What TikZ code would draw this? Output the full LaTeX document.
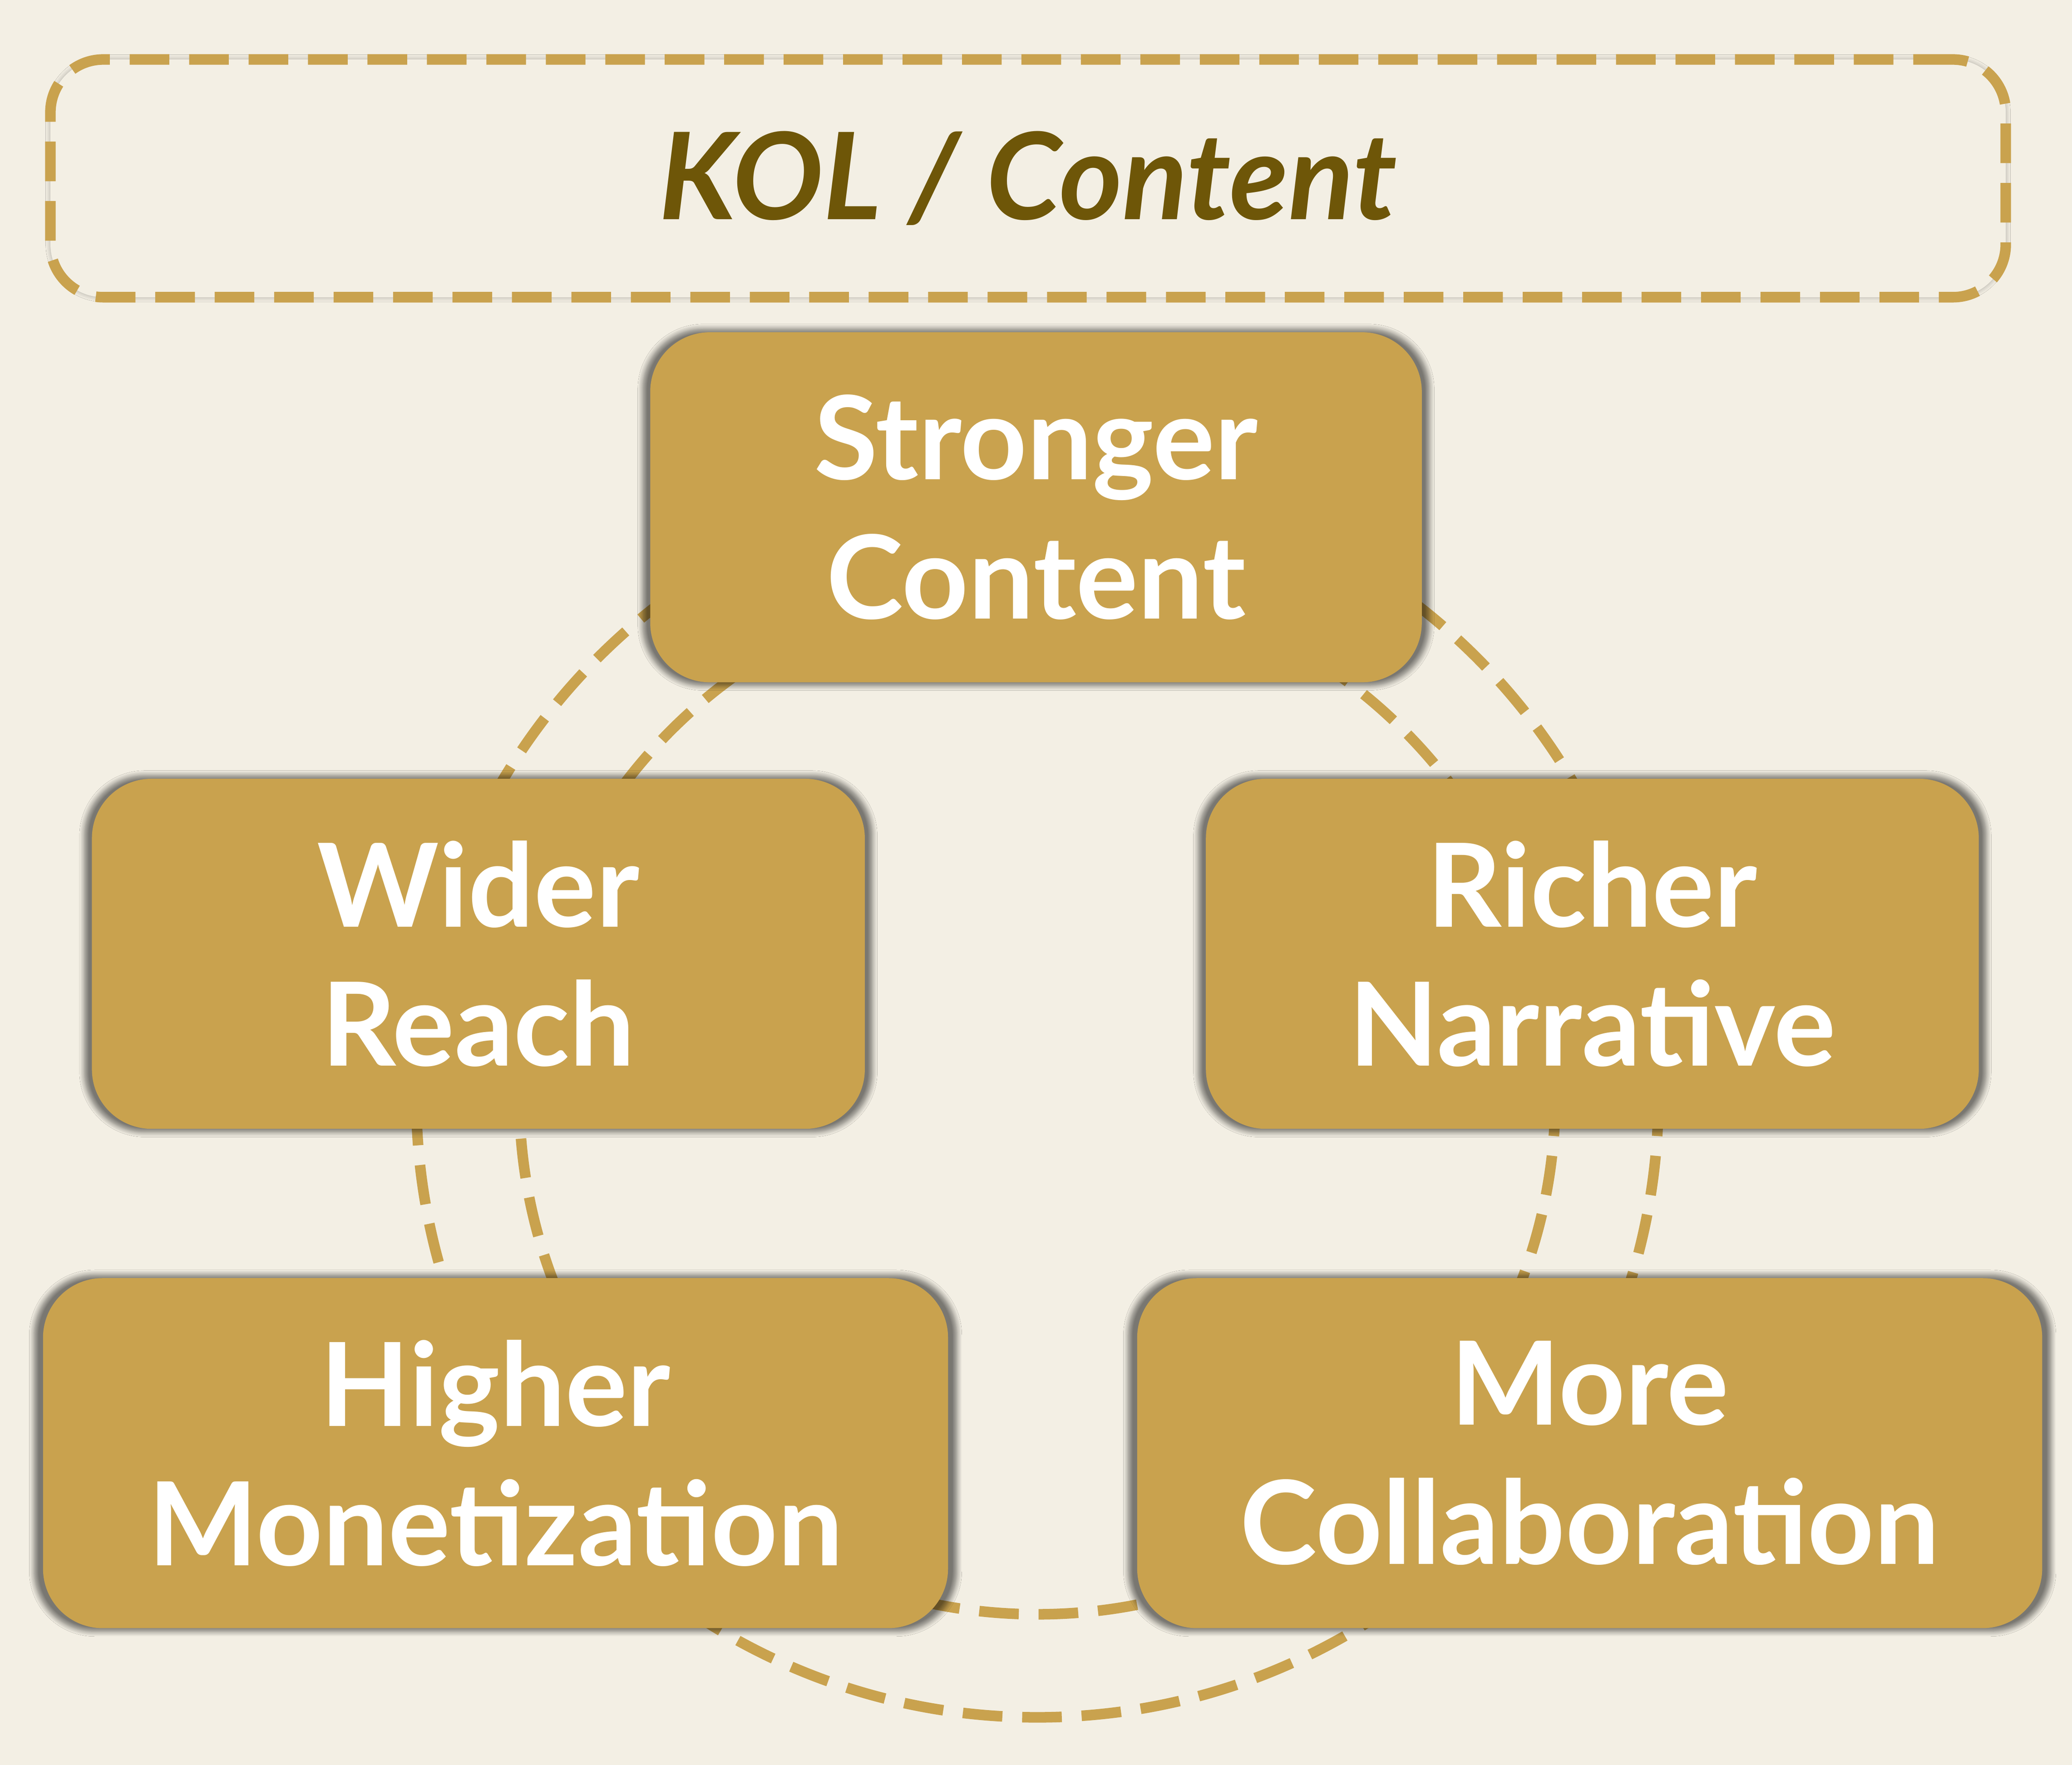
\documentclass[tikz,border=0pt]{standalone}
\usepackage{fontspec}
\setmainfont{Lato}
\usetikzlibrary{shadows.blur}
\definecolor{bg}{HTML}{F3EFE4}
\definecolor{gold}{HTML}{C9A24E}
\definecolor{olive}{HTML}{6E5608}
\begin{document}
\begin{tikzpicture}[x=0.02cm,y=-0.02cm,
  box/.style={draw=none,fill=gold,rounded corners=0.9cm,blur shadow={shadow blur steps=8,shadow xshift=0pt,shadow yshift=0pt,shadow scale=1.02,shadow opacity=50},
   text=white,align=center,font=\fontsize{50}{60}\selectfont\bfseries,inner sep=0pt},
  gdash/.style={draw=gold,line width=0.16cm,dash pattern=on 0.6cm off 0.3cm}]
\fill[bg] (0,0) rectangle (1568,1336);
\useasboundingbox (0,0) rectangle (1568,1336);
\draw[gdash] (785,830) circle[radius=470];
\draw[gdash] (785,830) circle[radius=392];
\node[gdash,rounded corners=0.8cm,minimum width=29.6cm,minimum height=3.6cm,blur shadow={shadow xshift=0pt,shadow yshift=0pt,shadow opacity=30},fill=bg] (t) at (778,135) {};
\node[text=olive,font=\fontsize{52}{60}\selectfont\bfseries\itshape] (tt) at (t) {KOL / Content};
\node[box,minimum width=11.68cm,minimum height=5.3cm] (s) at (784,384) {Stronger\\Content};
\node[box,minimum width=11.7cm,minimum height=5.3cm] (w) at (362,722) {Wider\\Reach};
\node[box,minimum width=11.7cm,minimum height=5.3cm] (r) at (1205,722) {Richer\\Narrative};
\node[box,minimum width=13.7cm,minimum height=5.3cm] (h) at (375,1100) {Higher\\Monetization};
\node[box,minimum width=13.7cm,minimum height=5.3cm] (m) at (1203,1100) {More\\Collaboration};
\end{tikzpicture}
\end{document}
